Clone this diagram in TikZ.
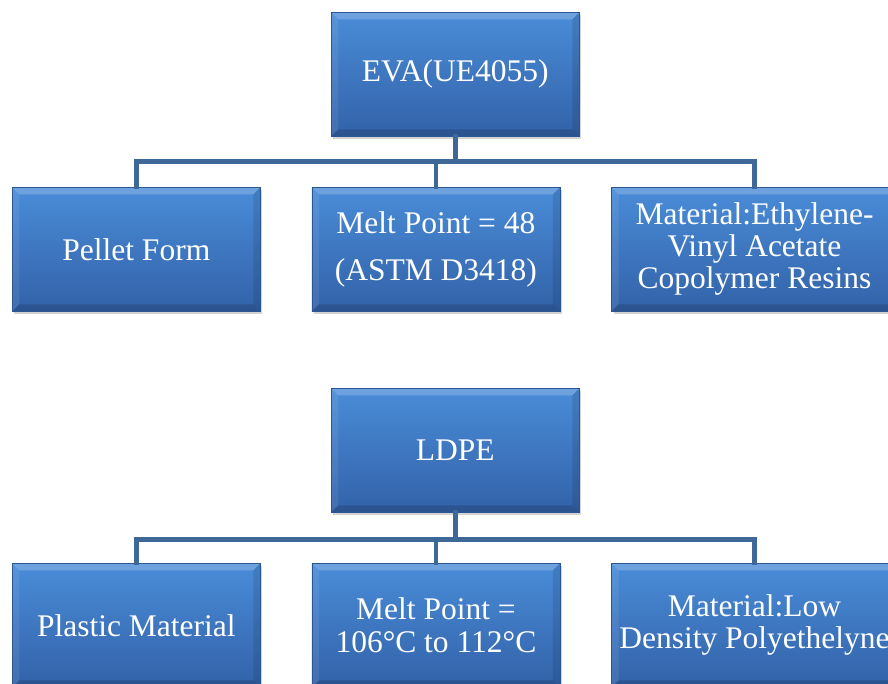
\documentclass[tikz,border=0pt]{standalone}
\usepackage{fontspec}
\setmainfont{Liberation Serif}
\usetikzlibrary{shadows}

\definecolor{boxtop}{RGB}{74,140,216}
\definecolor{boxbottom}{RGB}{50,98,168}
\definecolor{boxedge}{RGB}{44,86,146}
\definecolor{linkblue}{RGB}{62,104,152}

\begin{document}
\begin{tikzpicture}[x=1pt,y=1pt]
\useasboundingbox (0,0) rectangle (888,-683);
\begin{scope}

\tikzstyle{bevel} = [path picture={
  \fill [white,opacity=0.2] (path picture bounding box.north west) -- (path picture bounding box.north east) -- ([xshift=-7pt,yshift=-7pt]path picture bounding box.north east) -- ([xshift=7pt,yshift=-7pt]path picture bounding box.north west) -- cycle;
  \fill [white,opacity=0.08] (path picture bounding box.north west) -- ([xshift=7pt,yshift=-7pt]path picture bounding box.north west) -- ([xshift=7pt,yshift=7pt]path picture bounding box.south west) -- (path picture bounding box.south west) -- cycle;
  \fill [black,opacity=0.15] (path picture bounding box.south west) -- (path picture bounding box.south east) -- ([xshift=-7pt,yshift=7pt]path picture bounding box.south east) -- ([xshift=7pt,yshift=7pt]path picture bounding box.south west) -- cycle;
  \fill [black,opacity=0.1] (path picture bounding box.north east) -- ([xshift=-7pt,yshift=-7pt]path picture bounding box.north east) -- ([xshift=-7pt,yshift=7pt]path picture bounding box.south east) -- (path picture bounding box.south east) -- cycle;
}];
\tikzstyle{boxnode} = [bevel,minimum width=248pt,minimum height=124pt,inner sep=2pt,draw=boxedge,line width=0.6pt,top color=boxtop,bottom color=boxbottom,text=white,align=center,font=\fontsize{31.5}{32}\selectfont,drop shadow={opacity=0.35,shadow xshift=2pt,shadow yshift=-3pt}];
\tikzstyle{link} = [line width=4.5pt,draw=linkblue,line cap=rect];

% EVA
\node [boxnode,anchor=north west] (eva) at (331,-12) {EVA(UE4055)};
\node [boxnode,anchor=north west] (e1) at (12,-187) {Pellet Form};
\node [boxnode,anchor=west,font=\fontsize{31.5}{47}\selectfont] (e2) at ([xshift=51pt]e1.east) {Melt Point = 48\\(ASTM D3418)};
\node [boxnode,anchor=west,minimum width=286pt] (e3) at ([xshift=51pt]e2.east) {Material:Ethylene-\\Vinyl Acetate\\Copolymer Resins};

\coordinate (evabar) at ([yshift=-25pt]eva.south);
\draw [link] (eva.south) -- (evabar);
\draw [link] (e1.north) -- (e1.north |- evabar) -- (e3.north |- evabar) -- (e3.north);
\draw [link] (e2.north) -- (e2.north |- evabar);

% LDPE
\node [boxnode,anchor=north west] (ldpe) at (331,-388) {LDPE};
\node [boxnode,anchor=north west] (l1) at (12,-563) {Plastic Material};
\node [boxnode,anchor=west,font=\fontsize{31.5}{33}\selectfont] (l2) at ([xshift=51pt]l1.east) {Melt Point =\\106°C to 112°C};
\node [boxnode,anchor=west,minimum width=286pt] (l3) at ([xshift=51pt]l2.east) {Material:Low\\Density Polyethelyne};

\coordinate (ldpebar) at ([yshift=-27pt]ldpe.south);
\draw [link] (ldpe.south) -- (ldpebar);
\draw [link] (l1.north) -- (l1.north |- ldpebar) -- (l3.north |- ldpebar) -- (l3.north);
\draw [link] (l2.north) -- (l2.north |- ldpebar);

\end{scope}
\end{tikzpicture}
\end{document}
